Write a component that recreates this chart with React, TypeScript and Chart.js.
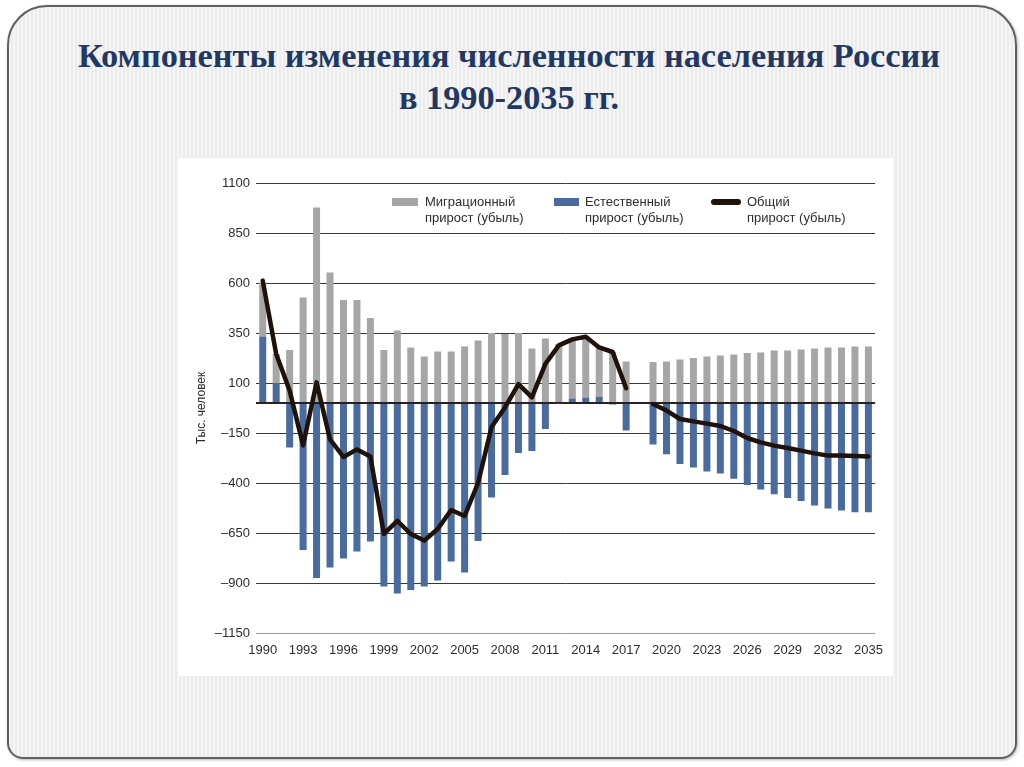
import React, { useEffect, useRef } from "react";
import { Chart, registerables } from "chart.js";

Chart.register(...registerables);

const years = [
  "1990", "1991", "1992", "1993", "1994", "1995", "1996", "1997", "1998", "1999",
  "2000", "2001", "2002", "2003", "2004", "2005", "2006", "2007", "2008", "2009",
  "2010", "2011", "2012", "2013", "2014", "2015", "2016", "2017", "2018", "2019",
  "2020", "2021", "2022", "2023", "2024", "2025", "2026", "2027", "2028", "2029",
  "2030", "2031", "2032", "2033", "2034", "2035",
];

// Миграционный прирост (убыль), тыс. человек
const migration = [
  270, 145, 265, 528, 978, 652, 515, 515, 425, 265,
  362, 278, 232, 257, 257, 282, 312, 350, 345, 350,
  273, 322, 295, 295, 300, 250, 255, 208, null, 205,
  208, 218, 225, 232, 238, 243, 250, 253, 262, 263,
  267, 273, 277, 277, 282, 282,
];

// Естественный прирост (убыль), тыс. человек
const natural = [
  333, 100, -222, -735, -875, -822, -778, -742, -692, -918,
  -952, -935, -918, -888, -792, -847, -690, -472, -360, -250,
  -240, -130, -4, 22, 28, 30, -8, -137, null, -207,
  -256, -305, -323, -343, -353, -379, -410, -432, -456, -475,
  -490, -512, -527, -538, -546, -546,
];

// Общий прирост (убыль), тыс. человек
const total = [
  612, 245, 62, -212, 103, -182, -270, -232, -268, -654,
  -589, -655, -688, -630, -535, -565, -400, -120, -22, 94,
  28, 196, 288, 318, 331, 278, 255, 74, null, -5,
  -38, -80, -92, -103, -115, -140, -175, -197, -213, -225,
  -238, -252, -263, -263, -265, -267,
];

const xTickLabels = [
  "1990", "1993", "1996", "1999", "2002", "2005", "2008", "2011", "2014", "2017",
  "2020", "2023", "2026", "2029", "2032", "2035",
];

const yTickValues = [1100, 850, 600, 350, 100, 0, -150, -400, -650, -900, -1150];
const yTickLabels = ["1100", "850", "600", "350", "100", "", "–150", "–400", "–650", "–900", "–1150"];

const legendLabels = [
  ["Миграционный", "прирост (убыль)"],
  ["Естественный", "прирост (убыль)"],
  ["Общий", "прирост (убыль)"],
];

const titleLines = ["Компоненты изменения численности населения России", "в 1990-2035 гг."];
const yAxisTitle = "Тыс. человек";

const GRAY = "#a6a6a6";
const BLUE = "#4a6b9e";
const LINE = "#1e120a";
const TEXT = "#2d2d2d";
const FONT = "'Liberation Sans', Arial, sans-serif";

function ChartCanvas() {
  const ref = useRef<HTMLCanvasElement | null>(null);
  useEffect(() => {
    if (!ref.current) return;
    const chart = new Chart(ref.current, {
      type: "bar",
      data: {
        labels: years,
        datasets: [
          {
            type: "line",
            label: "total",
            data: total,
            borderColor: LINE,
            backgroundColor: LINE,
            borderWidth: 4.5,
            pointRadius: 0,
            tension: 0,
            spanGaps: false,
            borderJoinStyle: "round",
            borderCapStyle: "round",
            stack: "line",
            order: 0,
          } as any,
          {
            type: "bar",
            label: "natural",
            data: natural,
            backgroundColor: BLUE,
            stack: "bars",
            order: 1,
            categoryPercentage: 1,
            barPercentage: 0.52,
          },
          {
            type: "bar",
            label: "migration",
            data: migration,
            backgroundColor: GRAY,
            stack: "bars",
            order: 2,
            categoryPercentage: 1,
            barPercentage: 0.52,
          },
        ],
      },
      options: {
        responsive: false,
        animation: false,
        devicePixelRatio: 1,
        layout: { padding: { top: 25, right: 13, bottom: 13, left: 0 } },
        plugins: {
          legend: { display: false },
          tooltip: { enabled: false },
          title: { display: false },
        },
        scales: {
          x: {
            stacked: true,
            offset: true,
            grid: { display: false, drawTicks: false },
            border: { display: false },
            ticks: {
              autoSkip: false,
              maxRotation: 0,
              minRotation: 0,
              padding: 10,
              color: TEXT,
              font: { family: FONT, size: 13 },
              callback: (_v: any, i: number) => (xTickLabels.includes(years[i]) ? years[i] : ""),
            },
            afterFit: (scale: any) => {
              scale.height = 30;
            },
          },
          y: {
            stacked: true,
            min: -1150,
            max: 1100,
            border: { display: false },
            grid: {
              drawTicks: false,
              color: (ctx: any) => {
                const v = ctx.tick?.value;
                if (v === -1150) return "#9a9a9a";
                if (v === 0) return "#2a2020";
                return "#3d3632";
              },
              lineWidth: (ctx: any) => (ctx.tick?.value === 0 ? 2 : 1),
            },
            afterBuildTicks: (scale: any) => {
              scale.ticks = yTickValues.map((v) => ({ value: v }));
            },
            ticks: {
              padding: 6,
              color: TEXT,
              font: { family: FONT, size: 13 },
              callback: (v: any) => {
                const i = yTickValues.indexOf(Number(v));
                return i >= 0 ? yTickLabels[i] : "";
              },
            },
            title: {
              display: true,
              text: yAxisTitle,
              color: TEXT,
              font: { family: FONT, size: 12 },
              padding: { top: 16, bottom: 0 },
            },
            afterFit: (scale: any) => {
              scale.width = 78;
            },
          },
        },
      },
    });
    return () => chart.destroy();
  }, []);
  return <canvas ref={ref} width={715} height={518} style={{ display: "block" }} />;
}

export default function App() {
  const legendText: React.CSSProperties = {
    position: "absolute",
    top: 194,
    fontFamily: FONT,
    fontSize: 13,
    lineHeight: "16px",
    color: TEXT,
    whiteSpace: "nowrap",
  };
  return (
    <div
      style={{
        position: "absolute",
        left: 0,
        top: 0,
        width: 1024,
        height: 767,
        overflow: "hidden",
        background: "#ffffff",
      }}
    >
      <div
        style={{
          position: "absolute",
          left: 7,
          top: 5,
          width: 1006,
          height: 750,
          border: "2px solid #5f5f5f",
          borderRadius: "40px 40px 16px 16px",
          background:
            "repeating-linear-gradient(90deg, #f5f5f5 0px, #f5f5f5 2px, #ececec 2px, #ececec 4px)",
          boxShadow: "1px 1px 3px rgba(0,0,0,0.3)",
        }}
      />
      <div
        style={{
          position: "absolute",
          left: 0,
          top: 34,
          width: 1018,
          textAlign: "center",
          fontFamily: "'Liberation Serif', 'Times New Roman', serif",
          fontWeight: "bold",
          fontSize: 34.3,
          lineHeight: "42px",
          color: "#1f3864",
        }}
      >
        <div>{titleLines[0]}</div>
        <div>{titleLines[1]}</div>
      </div>
      <div
        style={{
          position: "absolute",
          left: 178,
          top: 158,
          width: 715,
          height: 518,
          background: "#ffffff",
        }}
      >
        <ChartCanvas />
      </div>
      <div style={{ position: "absolute", left: 392, top: 198, width: 26, height: 8, background: GRAY }} />
      <div style={{ ...legendText, left: 425 }}>
        {legendLabels[0][0]}
        <br />
        {legendLabels[0][1]}
      </div>
      <div style={{ position: "absolute", left: 554, top: 198, width: 25, height: 8, background: BLUE }} />
      <div style={{ ...legendText, left: 585 }}>
        {legendLabels[1][0]}
        <br />
        {legendLabels[1][1]}
      </div>
      <div
        style={{
          position: "absolute",
          left: 711,
          top: 199,
          width: 30,
          height: 6,
          borderRadius: 3,
          background: LINE,
        }}
      />
      <div style={{ ...legendText, left: 747 }}>
        {legendLabels[2][0]}
        <br />
        {legendLabels[2][1]}
      </div>
    </div>
  );
}
